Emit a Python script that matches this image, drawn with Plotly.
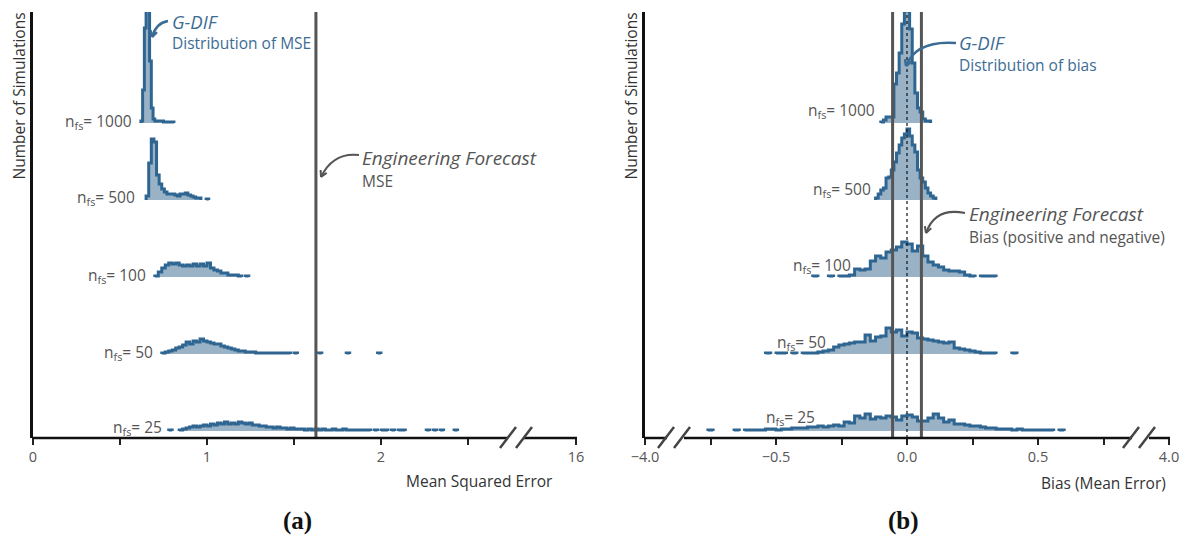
import math
import plotly.graph_objects as go

W, H = 1186, 537

# ---------------- data ----------------
N_FS = [25, 50, 100, 500, 1000]

# Panel (a): histograms of MSE (bin start, bin width, counts per bin)
MSE_START = {1000: 0.62, 500: 0.65, 100: 0.70, 50: 0.74, 25: 0.78}
MSE_WIDTH = {1000: 0.01, 500: 0.015, 100: 0.02, 50: 0.02, 25: 0.02}
mse_counts_1000 = [2, 33, 95, 115, 115, 62, 15, 4, 2, 2, 2, 2, 2, 1, 1, 1, 1, 1, 1]
mse_counts_500 = [4, 37, 61, 58, 25, 16, 11, 8, 6, 6, 6, 5, 4, 6, 6, 7, 5, 4, 3, 2, 2, 0, 0, 1]
mse_counts_100 = [1, 5, 9, 12, 14, 13, 14, 12, 11, 12, 11, 13, 11, 13, 11, 14, 9, 7, 6, 4,
                  4, 2, 2, 2, 1, 0, 1]
mse_counts_50 = [1, 2, 3, 4, 6, 7, 9, 12, 10, 13, 12, 15, 13, 12, 11, 10, 10, 8, 7, 6,
                 5, 4, 3, 3, 2, 2, 2, 1, 1, 1, 1, 1, 1, 1, 1, 1, 1, 0, 1,
                 0, 0, 0, 0, 0, 0, 1, 0, 0, 0, 0, 0, 0, 0, 1, 0, 0, 0, 0, 0, 0, 0, 0, 1]
mse_counts_25 = [1, 0, 0, 1, 2, 3, 4, 5, 4, 5, 6, 5, 7, 6, 8, 7, 9, 7, 8, 7,
                 9, 8, 7, 8, 6, 6, 5, 5, 4, 4, 3, 4, 3, 3, 2, 3, 2, 2, 2, 1,
                 2, 1, 2, 1, 2, 1, 1, 2, 1, 1, 2, 1, 1, 1, 1, 1, 1, 1, 0, 1,
                 0, 1, 1, 0, 1, 0, 1, 1, 0, 0, 0, 0, 0, 0, 1, 0, 1, 0, 1, 0, 0, 0, 1]
MSE_COUNTS = {1000: mse_counts_1000, 500: mse_counts_500, 100: mse_counts_100,
              50: mse_counts_50, 25: mse_counts_25}
ENGINEERING_MSE = 1.626

# Panel (b): histograms of bias
BIAS_START = {1000: -0.10, 500: -0.12, 100: -0.36, 50: -0.54, 25: -0.76}
BIAS_WIDTH = {1000: 0.01, 500: 0.01, 100: 0.02, 50: 0.02, 25: 0.02}
bias_counts_1000 = [1, 3, 6, 6, 6, 39, 50, 70, 99, 116, 112, 94, 60, 30, 15, 11, 4, 2, 2]
bias_counts_500 = [2, 6, 10, 12, 22, 23, 30, 38, 47, 55, 62, 66, 71, 64, 55, 48, 30, 22,
                   18, 12, 7, 4, 2]
bias_counts_100 = [1, 0, 0, 1, 0, 1, 1, 2, 8, 7, 8, 16, 21, 19, 25, 27, 30, 35, 33, 26,
                   31, 21, 15, 12, 10, 7, 6, 6, 5, 2, 1, 0, 1, 1, 1]
bias_counts_50 = [1, 0, 1, 1, 0, 1, 0, 1, 1, 1, 2, 3, 4, 7, 9, 10, 11, 12, 12, 19,
                  13, 17, 18, 26, 22, 24, 18, 22, 21, 16, 15, 14, 13, 12, 11, 12, 6, 5,
                  4, 3, 2, 1, 1, 1, 0, 0, 0, 1]
bias_counts_25 = [1, 0, 0, 0, 0, 1, 0, 1, 1, 1, 1, 2, 2, 1, 2, 2, 3, 3, 3, 4,
                  4, 5, 4, 5, 6, 5, 9, 8, 15, 13, 17, 12, 14, 13, 15, 14, 11, 15, 16, 14,
                  10, 10, 13, 17, 13, 9, 11, 7, 7, 6, 5, 5, 4, 3, 3, 2, 2, 2, 1, 2,
                  1, 1, 1, 1, 1, 1, 0, 1]
BIAS_COUNTS = {1000: bias_counts_1000, 500: bias_counts_500, 100: bias_counts_100,
               50: bias_counts_50, 25: bias_counts_25}
ENGINEERING_BIAS = 0.055

# axis ticks
MSE_TICKS = [0, 1, 2, 16]
MSE_TICKTEXT = ["0", "1", "2", "16"]
MSE_MINOR = [0.5, 1.5, 2.5]
BIAS_TICKS = [-4.0, -0.5, 0.0, 0.5, 4.0]
BIAS_TICKTEXT = ["\u22124.0", "\u22120.5", "0.0", "0.5", "4.0"]
BIAS_MINOR = [-0.75, -0.25, 0.25, 0.75]

# ---------------- styling ----------------
LINE = "#2f6591"
FILL = "rgba(52,101,141,0.5)"
GREY = "#555555"
BLUE_TXT = "#3b6c95"
FONT = "Open Sans"
RIDGE_OFFSET = [7, 84, 161, 238, 315]   # baseline of each ridge (n=25 ... 1000)
Y_TOP = 426

MSE_MAX_DISPLAY = 543 / 174.0   # where the broken axis puts 16


def mse_disp(v):
    return MSE_MAX_DISPLAY if v >= 16 else v


def bias_disp(v):
    if v <= -4:
        return -1.0
    if v >= 4:
        return 1.0
    return v


def PX(x):
    return x / W


def PY(y):
    return 1 - y / H


def step_xy(start, width, counts, base):
    xs, ys = [], []
    prev = 0
    r = start
    for i, c in enumerate(counts):
        l = start + i * width
        r = l + width
        if c > 0:
            if prev == 0:
                xs.append(l); ys.append(base)
            xs += [l, r]; ys += [base + c, base + c]
        elif prev > 0:
            xs.append(l); ys.append(base)
            xs.append(None); ys.append(None)
        prev = c
    if prev > 0:
        xs.append(r); ys.append(base)
    return xs, ys


fig = go.Figure()

for i, n in enumerate(N_FS):
    xs, ys = step_xy(MSE_START[n], MSE_WIDTH[n], MSE_COUNTS[n], RIDGE_OFFSET[i])
    xs = [None if v is None else mse_disp(v) for v in xs]
    fig.add_trace(go.Scatter(x=xs, y=ys, mode="lines", fill="toself", fillcolor=FILL,
                             line=dict(color=LINE, width=3), xaxis="x", yaxis="y",
                             hoverinfo="skip", showlegend=False))
    xs, ys = step_xy(BIAS_START[n], BIAS_WIDTH[n], BIAS_COUNTS[n], RIDGE_OFFSET[i])
    xs = [None if v is None else bias_disp(v) for v in xs]
    fig.add_trace(go.Scatter(x=xs, y=ys, mode="lines", fill="toself", fillcolor=FILL,
                             line=dict(color=LINE, width=3), xaxis="x2", yaxis="y2",
                             hoverinfo="skip", showlegend=False))

# reference lines
fig.add_trace(go.Scatter(x=[mse_disp(ENGINEERING_MSE)] * 2, y=[0, Y_TOP], mode="lines",
                         line=dict(color=GREY, width=3), xaxis="x", yaxis="y",
                         showlegend=False, hoverinfo="skip"))
for b in (-ENGINEERING_BIAS, ENGINEERING_BIAS):
    fig.add_trace(go.Scatter(x=[bias_disp(b)] * 2, y=[0, Y_TOP], mode="lines",
                             line=dict(color=GREY, width=3), xaxis="x2", yaxis="y2",
                             showlegend=False, hoverinfo="skip"))
fig.add_trace(go.Scatter(x=[0, 0], y=[0, Y_TOP], mode="lines",
                         line=dict(color="#111111", width=1.2, dash="dot"),
                         xaxis="x2", yaxis="y2", showlegend=False, hoverinfo="skip"))

ydom = [PY(438), PY(12)]
xcommon = dict(showgrid=False, zeroline=False, showline=False, ticks="outside",
               ticklen=6, tickwidth=2, tickcolor="#222222", tickmode="array",
               tickfont=dict(family=FONT, size=14.5, color=GREY), automargin=False)
ycommon = dict(showgrid=False, zeroline=False, showline=True, linewidth=2.5,
               linecolor="#111111", showticklabels=False, ticks="", range=[0, Y_TOP],
               domain=ydom, fixedrange=True, automargin=False)
minor_common = dict(ticks="outside", ticklen=6, tickwidth=2, tickcolor="#222222",
                    showgrid=False)

fig.update_layout(
    width=W, height=H, margin=dict(l=0, r=0, t=0, b=0, pad=0, autoexpand=False),
    paper_bgcolor="white", plot_bgcolor="rgba(0,0,0,0)",
    xaxis=dict(domain=[PX(33), PX(576)], range=[0, MSE_MAX_DISPLAY], anchor="y",
               tickvals=[mse_disp(v) for v in MSE_TICKS], ticktext=MSE_TICKTEXT,
               minor=dict(tickmode="array", tickvals=MSE_MINOR, **minor_common),
               **xcommon),
    yaxis=dict(anchor="x", **ycommon),
    xaxis2=dict(domain=[PX(645), PX(1169)], range=[-1, 1], anchor="y2",
                tickvals=[bias_disp(v) for v in BIAS_TICKS], ticktext=BIAS_TICKTEXT,
                minor=dict(tickmode="array", tickvals=BIAS_MINOR, **minor_common),
                **xcommon),
    yaxis2=dict(anchor="x2", **ycommon),
)

shapes = []


def seg(x0, y0, x1, y1, color="#111111", width=2.5):
    shapes.append(dict(type="line", xref="paper", yref="paper", x0=PX(x0), y0=PY(y0),
                       x1=PX(x1), y1=PY(y1), line=dict(color=color, width=width)))


# x axis lines with breaks
AX_Y = 438
for a, b in [(32, 508), (524, 577), (644, 667), (684, 1132), (1149, 1170)]:
    seg(a, AX_Y, b, AX_Y)
for x0 in (500, 516, 658, 674, 1123, 1139):
    seg(x0, AX_Y + 10, x0 + 16, AX_Y - 11, color="#444444", width=2.5)


def curved_arrow(p0, c, p1, color, width):
    path = "M {:.5f},{:.5f} Q {:.5f},{:.5f} {:.5f},{:.5f}".format(
        PX(p0[0]), PY(p0[1]), PX(c[0]), PY(c[1]), PX(p1[0]), PY(p1[1]))
    shapes.append(dict(type="path", xref="paper", yref="paper", path=path,
                       line=dict(color=color, width=width)))
    dx, dy = p1[0] - c[0], p1[1] - c[1]
    L = (dx * dx + dy * dy) ** 0.5
    ux, uy = dx / L, dy / L
    for ang in (0.5, -0.5):
        ca, sa = math.cos(ang), math.sin(ang)
        bx = -(ux * ca - uy * sa) * 7
        by = -(ux * sa + uy * ca) * 7
        seg(p1[0], p1[1], p1[0] + bx, p1[1] + by, color=color, width=width)


curved_arrow((168, 21), (156, 23), (152, 37), BLUE_TXT, 2.5)
curved_arrow((359, 155), (333, 152), (321, 177), GREY, 2)
curved_arrow((956, 43), (916, 40), (906, 66), BLUE_TXT, 2.5)
curved_arrow((965, 213), (935, 207), (926, 233), GREY, 2)

fig.update_layout(shapes=shapes)

ann = []


def text(x, y, s, size=14, color=GREY, xanchor="left", family=FONT, angle=0,
         yanchor="middle"):
    ann.append(dict(x=PX(x), y=PY(y), xref="paper", yref="paper", text=s, showarrow=False,
                    xanchor=xanchor, yanchor=yanchor, textangle=angle, align="left",
                    font=dict(family=family, size=size, color=color)))


# ridge labels
left_lbl = {1000: (134, 122), 500: (137, 198), 100: (148, 275), 50: (155, 352), 25: (164, 427)}
right_lbl = {1000: (877, 110), 500: (873, 189), 100: (853, 265), 50: (828, 342), 25: (817, 417)}
for n in N_FS:
    s = "n<sub>fs</sub>= {}".format(n)
    text(*left_lbl[n], s, size=15.5, xanchor="right")
    text(*right_lbl[n], s, size=15.5, xanchor="right")

text(170, 21, "<i>G-DIF</i>", size=18.5, color=BLUE_TXT)
text(170, 43, "Distribution of MSE", size=15.5, color=BLUE_TXT)
text(957, 43, "<i>G-DIF</i>", size=18.5, color=BLUE_TXT)
text(957, 65, "Distribution of bias", size=15.5, color=BLUE_TXT)
text(360, 158, "<i>Engineering Forecast</i>", size=19, color=GREY)
text(360, 181, "MSE", size=15.5, color=GREY)
text(967, 214, "<i>Engineering Forecast</i>", size=19, color=GREY)
text(967, 237, "Bias (positive and negative)", size=15.5, color=GREY)

text(18, 11, "Number of Simulations", size=15.5, color="#333333", xanchor="center",
     angle=-90, yanchor="top")
text(630, 11, "Number of Simulations", size=15.5, color="#333333", xanchor="center",
     angle=-90, yanchor="top")
text(555, 481, "Mean Squared Error", size=15.5, color="#333333", xanchor="right")
text(1168, 483, "Bias (Mean Error)", size=15.5, color="#333333", xanchor="right")
text(297, 521, "<b>(a)</b>", size=25, color="#111111", xanchor="center",
     family="Liberation Serif")
text(903, 521, "<b>(b)</b>", size=25, color="#111111", xanchor="center",
     family="Liberation Serif")

fig.update_layout(annotations=ann)
fig.write_html("out.html", config={"displayModeBar": False},
               post_script="document.body.style.margin='0';"
                           "document.body.style.overflow='hidden';")
